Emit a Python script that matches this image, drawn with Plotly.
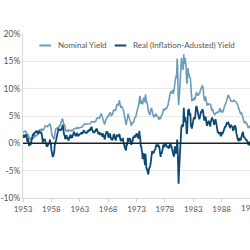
import plotly.graph_objects as go

years = list(range(1953, 1994))

# 3-month yield (%), monthly, by year
nominal_by_year = [
    [2.04, 2.02, 2.08, 2.18, 2.20, 2.23, 2.10, 2.09, 1.87, 1.35, 1.43, 1.63],
    [1.19, 0.97, 1.02, 0.78, 0.65, 0.63, 0.82, 0.89, 1.02, 0.99, 0.95, 1.17],
    [1.23, 1.17, 1.28, 1.59, 1.45, 1.41, 1.60, 1.90, 2.07, 2.23, 2.25, 2.54],
    [2.41, 2.32, 2.25, 2.60, 2.61, 2.49, 2.31, 2.60, 2.84, 2.90, 2.99, 3.21],
    [3.11, 3.10, 3.08, 3.06, 3.06, 3.29, 3.16, 3.37, 3.53, 3.58, 3.29, 3.04],
    [2.44, 1.53, 1.30, 1.13, 0.91, 0.83, 0.91, 1.69, 2.44, 2.63, 2.67, 2.77],
    [2.82, 2.70, 2.80, 2.95, 2.84, 3.21, 3.20, 3.38, 4.04, 4.05, 4.15, 4.49],
    [4.35, 3.96, 3.31, 3.23, 3.29, 2.46, 2.30, 2.30, 2.48, 2.30, 2.37, 2.25],
    [2.24, 2.42, 2.39, 2.29, 2.29, 2.33, 2.24, 2.39, 2.28, 2.30, 2.48, 2.60],
    [2.72, 2.73, 2.72, 2.73, 2.69, 2.73, 2.92, 2.82, 2.78, 2.74, 2.83, 2.87],
    [2.91, 2.92, 2.89, 2.90, 2.92, 2.99, 3.18, 3.32, 3.38, 3.45, 3.52, 3.52],
    [3.52, 3.53, 3.54, 3.47, 3.48, 3.48, 3.46, 3.50, 3.53, 3.57, 3.64, 3.84],
    [3.81, 3.93, 3.93, 3.93, 3.89, 3.80, 3.84, 3.84, 3.92, 4.03, 4.09, 4.38],
    [4.59, 4.65, 4.59, 4.62, 4.64, 4.50, 4.80, 4.96, 5.37, 5.35, 5.32, 4.96],
    [4.72, 4.56, 4.26, 3.84, 3.60, 3.54, 4.21, 4.27, 4.42, 4.56, 4.73, 4.97],
    [5.00, 4.98, 5.17, 5.38, 5.66, 5.52, 5.31, 5.09, 5.19, 5.35, 5.45, 5.96],
    [6.14, 6.12, 6.02, 6.11, 6.04, 6.44, 7.00, 6.98, 7.09, 7.00, 7.24, 7.82],
    [7.87, 7.13, 6.63, 6.51, 6.84, 6.68, 6.45, 6.41, 6.12, 5.91, 5.28, 4.87],
    [4.44, 3.70, 3.38, 3.86, 4.14, 4.75, 5.40, 4.94, 4.69, 4.46, 4.22, 4.01],
    [3.38, 3.20, 3.73, 3.71, 3.69, 3.91, 3.98, 4.02, 4.66, 4.74, 4.78, 5.07],
    [5.41, 5.60, 6.09, 6.26, 6.36, 7.19, 8.01, 8.67, 8.29, 7.22, 7.83, 7.45],
    [7.77, 7.12, 7.96, 8.33, 8.23, 7.90, 7.55, 8.96, 8.06, 7.46, 7.47, 7.15],
    [6.26, 5.50, 5.49, 5.61, 5.23, 5.34, 6.13, 6.44, 6.42, 5.96, 5.48, 5.44],
    [4.87, 4.88, 5.00, 4.86, 5.20, 5.41, 5.23, 5.14, 5.08, 4.92, 4.75, 4.35],
    [4.62, 4.67, 4.60, 4.54, 4.96, 5.02, 5.19, 5.49, 5.81, 6.16, 6.10, 6.07],
    [6.44, 6.45, 6.29, 6.29, 6.41, 6.73, 7.01, 7.08, 7.85, 7.99, 8.64, 9.08],
    [9.35, 9.27, 9.46, 9.49, 9.58, 9.05, 9.26, 9.45, 10.18, 11.47, 11.87, 12.07],
    [12.04, 12.81, 15.53, 14.00, 9.15, 7.00, 8.13, 9.26, 10.32, 11.58, 13.89, 15.66],
    [14.72, 14.90, 13.48, 13.63, 16.30, 14.56, 14.70, 15.61, 14.95, 13.87, 11.27, 10.93],
    [12.41, 13.78, 12.49, 12.82, 12.15, 12.11, 11.91, 9.01, 8.20, 7.75, 8.04, 8.01],
    [7.81, 8.13, 8.30, 8.25, 8.19, 8.82, 9.12, 9.39, 9.05, 8.71, 8.71, 8.96],
    [8.93, 9.03, 9.44, 9.69, 9.90, 9.94, 10.13, 10.49, 10.41, 9.97, 8.79, 8.16],
    [7.76, 8.22, 8.57, 8.00, 7.56, 7.01, 7.05, 7.18, 7.08, 7.17, 7.20, 7.07],
    [7.04, 7.03, 6.59, 6.06, 6.12, 6.21, 5.84, 5.57, 5.19, 5.18, 5.35, 5.49],
    [5.45, 5.59, 5.56, 5.76, 5.75, 5.69, 5.78, 6.00, 6.32, 6.40, 5.81, 5.80],
    [5.90, 5.69, 5.69, 5.92, 6.27, 6.50, 6.73, 7.02, 7.23, 7.34, 7.68, 8.09],
    [8.29, 8.48, 8.83, 8.70, 8.40, 8.22, 7.92, 7.91, 7.72, 7.63, 7.65, 7.64],
    [7.64, 7.74, 7.90, 7.77, 7.74, 7.73, 7.62, 7.45, 7.36, 7.17, 7.06, 6.74],
    [6.22, 5.94, 5.91, 5.65, 5.46, 5.57, 5.58, 5.33, 5.22, 4.99, 4.56, 4.07],
    [3.80, 3.84, 4.04, 3.75, 3.63, 3.66, 3.21, 3.13, 2.91, 2.86, 3.13, 3.22],
    [3.00, 2.93, 2.95, 2.87, 2.96, 3.07, 3.04, 3.02, 2.95, 3.02, 3.10, 3.06],
]

# Real (inflation-adjusted) yield (%), monthly, by year
real_by_year = [
    [1.6, 1.4, 1.0, 1.4, 1.4, 1.1, 1.7, 1.4, 1.2, 0.3, 0.7, 0.9],
    [0.1, -0.5, -0.1, 0.1, -0.3, 0.2, 0.4, 0.9, 1.4, 1.7, 1.4, 1.9],
    [1.9, 1.9, 2.0, 2.0, 2.2, 2.1, 2.0, 2.3, 1.7, 1.8, 1.9, 2.1],
    [2.0, 1.9, 1.9, 1.9, 1.5, 0.7, 0.1, 0.8, 0.6, 0.7, 0.8, 0.3],
    [0.2, -0.2, -0.5, -0.5, -0.5, 0.0, -0.1, -0.2, 0.2, 0.7, 0.0, 0.1],
    [-1.2, -1.7, -2.3, -2.5, -2.3, -2.0, -1.6, -0.4, 0.3, 0.5, 0.6, 1.0],
    [1.4, 1.7, 2.5, 2.7, 2.5, 2.5, 2.5, 2.4, 2.6, 2.4, 2.8, 2.8],
    [3.4, 2.3, 1.6, 1.5, 1.6, 0.8, 0.9, 0.9, 1.5, 0.9, 1.0, 0.9],
    [0.5, 1.0, 1.0, 1.3, 1.3, 1.6, 0.9, 1.4, 1.0, 1.6, 1.8, 1.9],
    [2.0, 1.7, 1.7, 1.4, 1.4, 1.4, 1.9, 1.5, 1.5, 1.4, 1.5, 1.6],
    [1.6, 1.9, 1.9, 1.9, 1.9, 1.7, 1.9, 2.0, 2.4, 2.2, 2.2, 1.9],
    [1.9, 1.9, 1.9, 1.9, 2.2, 2.2, 2.2, 2.5, 2.2, 2.6, 2.3, 2.8],
    [2.8, 2.9, 2.6, 2.3, 2.3, 1.9, 2.2, 1.9, 2.3, 2.1, 2.5, 2.5],
    [2.7, 2.2, 2.1, 1.8, 1.8, 2.0, 2.0, 1.5, 1.9, 1.6, 1.8, 1.5],
    [1.2, 1.8, 1.5, 1.3, 0.8, 0.7, 1.4, 1.8, 1.6, 2.2, 2.0, 2.0],
    [1.4, 1.0, 1.3, 1.5, 1.8, 1.3, 0.8, 0.6, 0.8, 0.7, 0.8, 1.3],
    [1.7, 1.4, 0.8, 0.6, 0.5, 0.9, 1.6, 1.3, 1.4, 1.3, 1.3, 1.6],
    [1.7, 1.0, 0.8, 0.4, 0.7, 0.7, 0.5, 1.0, 0.4, 0.2, -0.3, -0.7],
    [-0.9, -1.3, -1.3, -0.3, -0.3, 0.2, 1.0, 0.3, 0.6, 0.7, 0.9, 0.7],
    [0.1, -0.3, 0.2, 0.2, 0.5, 1.2, 1.1, 1.1, 1.5, 1.3, 1.1, 1.7],
    [1.8, 1.7, 1.5, 1.2, 0.9, 1.2, 2.3, 1.3, 0.9, -0.6, -0.5, -1.3],
    [-1.6, -2.9, -2.4, -1.8, -2.5, -3.0, -4.0, -1.9, -4.0, -4.6, -4.7, -5.2],
    [-5.5, -5.7, -4.8, -4.6, -4.3, -4.1, -3.6, -2.2, -1.5, -1.4, -1.9, -1.5],
    [-1.8, -1.4, -1.1, -1.1, -1.0, -0.5, -0.2, -0.6, -0.4, -0.6, -0.2, -0.6],
    [-0.6, -1.2, -1.8, -2.5, -1.7, -1.9, -1.6, -1.1, -0.8, -0.2, -0.6, -0.6],
    [-0.4, 0.1, -0.3, -0.2, -0.6, -0.7, -0.7, -0.8, -0.5, -0.9, -0.3, 0.1],
    [0.1, -0.6, -0.6, -1.0, -1.3, -1.9, -2.0, -2.4, -2.0, -0.6, -0.7, -1.2],
    [-1.9, -1.4, 0.7, -0.7, -5.3, -7.4, -5.0, -3.6, -2.3, -1.2, 1.3, 3.2],
    [2.9, 3.5, 3.0, 3.6, 6.5, 5.0, 3.9, 4.8, 4.0, 3.8, 1.7, 2.0],
    [4.0, 6.2, 5.7, 6.3, 5.5, 5.0, 5.5, 3.1, 3.2, 2.7, 3.4, 4.2],
    [4.1, 4.6, 4.7, 4.4, 4.7, 6.2, 6.6, 6.8, 6.2, 5.8, 5.4, 5.2],
    [4.7, 4.4, 4.6, 5.1, 5.7, 5.7, 5.9, 6.2, 6.1, 5.7, 4.7, 4.3],
    [4.3, 4.7, 4.9, 4.3, 3.8, 3.2, 3.5, 3.9, 4.0, 4.0, 3.7, 3.3],
    [3.1, 3.9, 4.4, 4.5, 4.6, 4.4, 4.2, 4.0, 3.4, 3.7, 4.1, 4.4],
    [4.0, 3.5, 2.6, 2.0, 1.9, 2.0, 1.9, 1.7, 1.9, 1.9, 1.3, 1.4],
    [1.9, 1.8, 1.8, 2.0, 2.4, 2.5, 2.6, 3.0, 3.0, 3.1, 3.5, 3.7],
    [3.6, 3.7, 3.8, 3.6, 3.0, 3.0, 2.9, 3.2, 3.4, 3.1, 3.0, 3.0],
    [2.4, 2.4, 2.7, 3.1, 3.3, 3.0, 2.8, 1.9, 1.2, 0.9, 0.8, 0.6],
    [0.5, 0.6, 1.0, 0.8, 0.5, 0.9, 1.2, 1.5, 1.8, 2.1, 1.6, 1.0],
    [1.2, 1.0, 0.8, 0.6, 0.6, 0.6, 0.0, 0.0, -0.1, -0.3, 0.1, 0.3],
    [-0.3, -0.3, -0.2, -0.3, -0.2, 0.1, 0.2, 0.2, 0.3, 0.2, 0.4, 0.4],
]

x_tick_vals = [1953, 1958, 1963, 1968, 1973, 1978, 1983, 1988, 1993]
x_tick_labels = ["1953", "1958", "1963", "1968", "1973", "1978", "1983", "1988", "1993"]
y_tick_vals = [-10, -5, 0, 5, 10, 15, 20]
y_tick_labels = ["-10%", "-5%", "0%", "5%", "10%", "15%", "20%"]
series_names = ["Nominal Yield", "Real (Inflation-Adusted) Yield"]

x = [y + m / 12 for y in years for m in range(12)]
nominal = [v for row in nominal_by_year for v in row]
real = [v for row in real_by_year for v in row]

NOM_C = "#6d9cba"
REAL_C = "#0d4a73"
FONT = "Lato"
TXT_C = "#555555"

fig = go.Figure()
fig.add_trace(go.Scatter(x=x, y=nominal, mode="lines", name=series_names[0],
                         line=dict(color=NOM_C, width=1.6), showlegend=False))
fig.add_trace(go.Scatter(x=x, y=real, mode="lines", name=series_names[1],
                         line=dict(color=REAL_C, width=1.8), showlegend=False))

# zero line
fig.add_shape(type="line", xref="paper", yref="y", x0=0, x1=1, y0=0, y1=0,
              line=dict(color="#222222", width=1.5), layer="above")

# manual legend
legend_items = [(0.072, 0.123, 0.145), (0.404, 0.455, 0.477)]
for (x0, x1, xt), name, col in zip(legend_items, series_names, [NOM_C, REAL_C]):
    fig.add_shape(type="line", xref="paper", yref="paper", x0=x0, x1=x1,
                  y0=0.93, y1=0.93, line=dict(color=col, width=2))
    fig.add_annotation(xref="paper", yref="paper", x=xt, y=0.93, text=name,
                       showarrow=False, xanchor="left", yanchor="middle",
                       font=dict(family=FONT, size=8, color=TXT_C))

# last x tick label sits on the right edge (partly cut off)
fig.add_annotation(xref="x", yref="paper", x=x_tick_vals[-1], y=0, yshift=-10,
                   text=x_tick_labels[-1], showarrow=False, xanchor="center",
                   yanchor="middle", font=dict(family=FONT, size=8, color=TXT_C))

fig.update_layout(
    width=250, height=250,
    margin=dict(l=15, r=0, t=34, b=52),
    paper_bgcolor="white", plot_bgcolor="white",
    font=dict(family=FONT, size=8, color=TXT_C),
    showlegend=False,
)
fig.update_xaxes(range=[1953, 1993], tickvals=x_tick_vals[:-1], ticktext=x_tick_labels[:-1],
                 showgrid=False, showline=True, linecolor="#d9d9d9", linewidth=1,
                 ticks="outside", ticklen=3, tickcolor="#d0d0d0",
                 zeroline=False, tickfont=dict(family=FONT, size=8, color=TXT_C))
fig.update_yaxes(range=[-10, 20], tickvals=y_tick_vals, ticktext=y_tick_labels,
                 showgrid=True, gridcolor="#e8e8e8", gridwidth=1,
                 showline=True, linecolor="#d9d9d9", linewidth=1,
                 zeroline=False, ticks="",
                 tickfont=dict(family=FONT, size=8.5, color=TXT_C))

fig.write_html("out.html")
